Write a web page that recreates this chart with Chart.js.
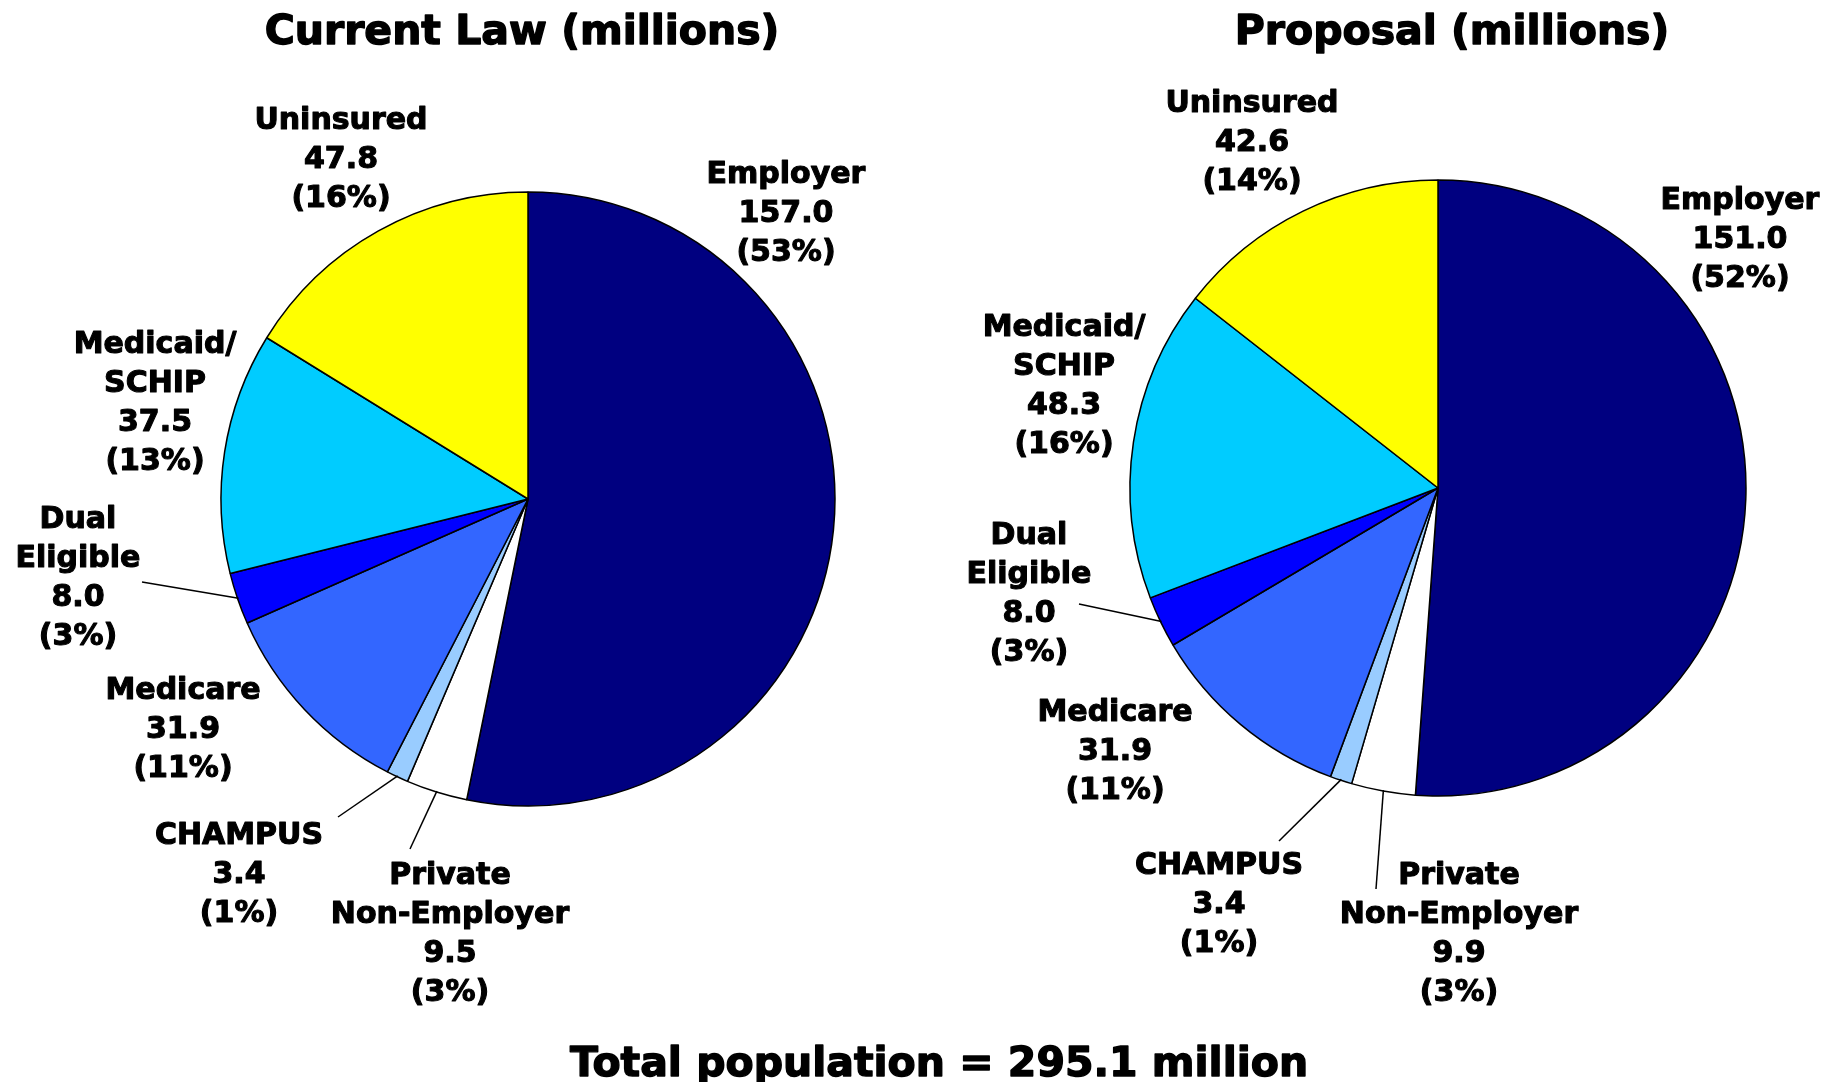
<!DOCTYPE html>
<html>
<head>
<meta charset="utf-8">
<script src="https://cdn.jsdelivr.net/npm/chart.js@4.4.1/dist/chart.umd.min.js"></script>
<style>
html,body{margin:0;padding:0;background:#fff;}
#wrap{position:relative;width:1841px;height:1082px;overflow:hidden;background:#fff;}
canvas{position:absolute;left:0;top:0;}
</style>
</head>
<body>
<div id="wrap">
  <canvas id="lawChart" width="1841" height="1082"></canvas>
  <canvas id="propChart" width="1841" height="1082"></canvas>
</div>
<script>
// slices go clockwise from 12 o'clock
const categories = [['Employer'], ['Private', 'Non-Employer'], ['CHAMPUS'], ['Medicare'], ['Dual', 'Eligible'], ['Medicaid/', 'SCHIP'], ['Uninsured']];
const currentLaw = [157.0, 9.5, 3.4, 31.9, 8.0, 37.5, 47.8];
const currentPct = [53, 3, 1, 11, 3, 13, 16];
const proposal = [151.0, 9.9, 3.4, 31.9, 8.0, 48.3, 42.6];
const proposalPct = [52, 3, 1, 11, 3, 16, 14];
const totalPopulation = 295.1;
const colors = ['#000080', '#FFFFFF', '#99CCFF', '#3366FF', '#0000FF', '#00CCFF', '#FFFF00'];

const W = 1841, H = 1082;
const FONT = '"DejaVu Sans", sans-serif';
const LINE = 39;

// label block centres and leader ends, relative to the pie centre
const lawLayout = {
  cx: 528, cy: 499, r: 307, title: 'Current Law (millions)', titleX: 522,
  labels: [[258, -288], [-78, 433], [-289, 373], [-345, 228], [-450, 77], [-373, -98], [-187, -342]],
  leaders: {1: [-118, 350], 2: [-190, 318], 4: [-386, 83]}
};
const propLayout = {
  cx: 1438, cy: 488, r: 308, title: 'Proposal (millions)', titleX: 1452,
  labels: [[302, -251], [21, 444], [-219, 414], [-323, 261], [-409, 104], [-374, -104], [-186, -348]],
  leaders: {1: [-62, 401], 2: [-159, 353], 4: [-359, 116]}
};

// heavy text: fill plus a thin stroke to get closer to the black-weight face
function heavyText(ctx, t, x, y, w){
  ctx.lineWidth = w;
  ctx.strokeText(t, x, y);
  ctx.fillText(t, x, y);
}

function labelPlugin(lay, pct, footer){
  return {
    id: 'sliceLabels',
    afterDraw(chart){
      const ctx = chart.ctx;
      const arcs = chart.getDatasetMeta(0).data;
      const vals = chart.data.datasets[0].data;
      ctx.save();
      ctx.fillStyle = '#000';
      ctx.strokeStyle = '#000';
      ctx.lineJoin = 'round';
      ctx.textAlign = 'center';
      ctx.textBaseline = 'alphabetic';
      ctx.font = 'bold 41px ' + FONT;
      heavyText(ctx, lay.title, lay.titleX, 29 + 41 * 0.365, 1.4);

      ctx.lineWidth = 1.5;
      Object.entries(lay.leaders).forEach(([i, end]) => {
        const a = arcs[i];
        const mid = (a.startAngle + a.endAngle) / 2;
        ctx.beginPath();
        ctx.moveTo(a.x + Math.cos(mid) * (a.outerRadius - 1), a.y + Math.sin(mid) * (a.outerRadius - 1));
        ctx.lineTo(a.x + end[0], a.y + end[1]);
        ctx.stroke();
      });

      ctx.font = 'bold 30px ' + FONT;
      categories.forEach((name, i) => {
        const lines = [...name, vals[i].toFixed(1), '(' + pct[i] + '%)'];
        const [dx, dy] = lay.labels[i];
        const top = lay.cy + dy - (lines.length - 1) * LINE / 2;
        lines.forEach((t, k) => heavyText(ctx, t, lay.cx + dx, top + k * LINE + 30 * 0.365, 1.1));
      });

      if(footer){
        ctx.font = 'bold 41px ' + FONT;
        heavyText(ctx, footer, 939, 1061 + 41 * 0.365, 1.4);
      }
      ctx.restore();
    }
  };
}

function makePie(id, values, pct, lay, footer){
  const side = 2 * lay.r + 1.5;
  return new Chart(document.getElementById(id), {
    type: 'pie',
    data: {
      labels: categories.map(c => c.join(' ')),
      datasets: [{data: values, backgroundColor: colors, borderColor: '#000', borderWidth: 1.5}]
    },
    options: {
      responsive: false, animation: false, devicePixelRatio: 1,
      layout: {padding: {left: lay.cx - side / 2, right: W - lay.cx - side / 2, top: lay.cy - side / 2, bottom: H - lay.cy - side / 2}},
      plugins: {legend: {display: false}, tooltip: {enabled: false}}
    },
    plugins: [labelPlugin(lay, pct, footer)]
  });
}

makePie('lawChart', currentLaw, currentPct, lawLayout, null);
makePie('propChart', proposal, proposalPct, propLayout, 'Total population = ' + totalPopulation.toFixed(1) + ' million');
</script>
</body>
</html>
